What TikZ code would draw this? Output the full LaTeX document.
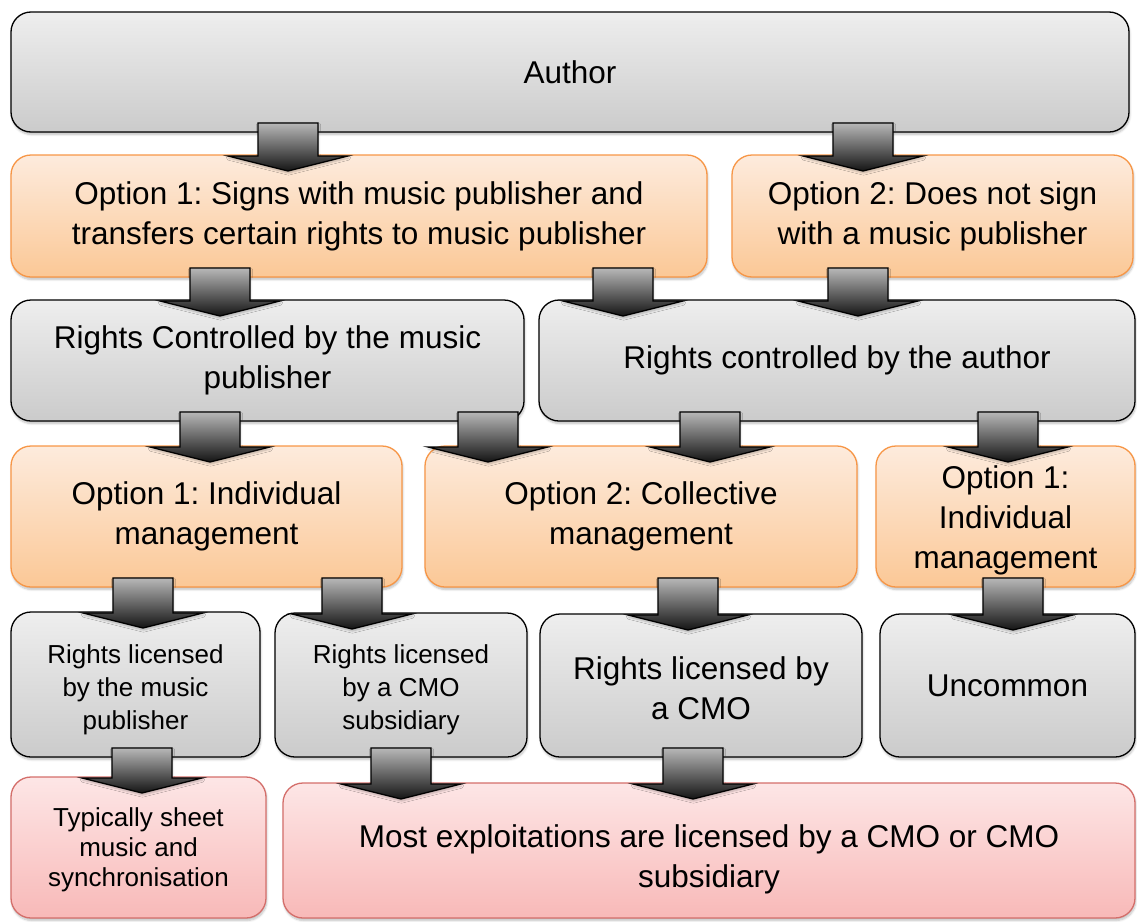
\documentclass[tikz,border=0pt]{standalone}
\usepackage{fontspec}
\setmainfont{Liberation Sans}
\usetikzlibrary{calc,shadows.blur}
\frenchspacing

\definecolor{grayTop}{HTML}{EEEEEE}
\definecolor{grayBot}{HTML}{CBCBCB}
\definecolor{orTop}{HTML}{FDEBDD}
\definecolor{orBot}{HTML}{FBC896}
\definecolor{orLine}{HTML}{F79646}
\definecolor{rdTop}{HTML}{FDE6E6}
\definecolor{rdBot}{HTML}{F8B9B8}
\definecolor{rdLine}{HTML}{D46E6A}

% centred lines of text, drawn lower than the natural centre by #1
\newcommand\loweredlines[2]{\raisebox{-#1}[\height][\depth]{\begin{tabular}{@{}c@{}}#2\end{tabular}}}

\tikzset{
  box/.style={rectangle, rounded corners=20pt, inner sep=0pt, outer sep=0pt,
    line width=1.3pt, align=center, font=\fontsize{31.5}{40}\selectfont,
    blur shadow={shadow blur steps=6, shadow xshift=0.8pt, shadow yshift=-2.5pt, shadow opacity=25}},
  smalltext/.style={font=\fontsize{26}{33}\selectfont},
  tighttext/.style={font=\fontsize{26}{30}\selectfont},
  graybox/.style={box, draw=black, top color=grayTop, bottom color=grayBot},
  orangebox/.style={box, draw=orLine, top color=orTop, bottom color=orBot},
  redbox/.style={box, draw=rdLine, top color=rdTop, bottom color=rdBot},
  blockarrow/.style={draw=black, line width=1.3pt, line join=miter,
    top color=black!28, bottom color=black!92,
    blur shadow={shadow blur steps=5, shadow xshift=0.5pt, shadow yshift=-2pt, shadow opacity=25}}
}

% block arrow: #1 = x position (pt), #2 = source node, #3 = target node
\newcommand\flowarrow[3]{%
  \path[blockarrow] let \p1=(#2.south), \p2=(#3.north) in
    ({#1pt-30pt},{\y1+9pt}) -- ({#1pt+30pt},{\y1+9pt}) -- ({#1pt+30pt},{\y2-1pt})
    -- ({#1pt+60pt},{\y2-1pt}) -- ({#1pt},{\y2-16pt}) -- ({#1pt-60pt},{\y2-1pt})
    -- ({#1pt-30pt},{\y2-1pt}) -- cycle;}

\begin{document}
\begin{tikzpicture}[x=1pt,y=-1pt]
\useasboundingbox (0,0) rectangle (1137,921);

% row 1
\node[graybox, minimum width=1118pt, minimum height=120pt] (author) at (570,72) {Author};

% row 2
\node[orangebox, minimum width=696pt, minimum height=122pt] (opta) at (359,216)
  {Option 1: Signs with music publisher and\\transfers certain rights to music publisher};
\node[orangebox, minimum width=401pt, minimum height=122pt] (optb) at (932.5,216)
  {Option 2: Does not sign\\with a music publisher};

% row 3
\node[graybox, minimum width=513pt, minimum height=121pt] (rcm) at (267.5,360.5)
  {Rights Controlled by the music\\publisher};
\node[graybox, minimum width=596pt, minimum height=121pt] (rca) at (837,360.5)
  {Rights controlled by the author};

% row 4
\node[orangebox, minimum width=391pt, minimum height=141pt] (ind1) at (206.5,516.5)
  {Option 1: Individual\\management};
\node[orangebox, minimum width=432pt, minimum height=141pt] (coll) at (641,516.5)
  {Option 2: Collective\\management};
\node[orangebox, minimum width=259pt, minimum height=141pt] (ind2) at (1005.5,516.5)
  {\loweredlines{4pt}{Option 1:\\Individual\\management}};

% row 5
\node[graybox, smalltext, minimum width=249pt, minimum height=145pt] (lpub) at (135.5,684.5)
  {\loweredlines{5pt}{Rights licensed\\by the music\\publisher}};
\node[graybox, smalltext, minimum width=252pt, minimum height=144pt] (lsub) at (401,685)
  {\loweredlines{5pt}{Rights licensed\\by a CMO\\subsidiary}};
\node[graybox, minimum width=322pt, minimum height=143pt] (lcmo) at (701,685.5)
  {\loweredlines{6pt}{Rights licensed by\\a CMO}};
\node[graybox, minimum width=255pt, minimum height=143pt] (unc) at (1007.5,685.5)
  {Uncommon};

% row 6
\node[redbox, tighttext, minimum width=255pt, minimum height=141pt] (typ) at (138.5,847.5)
  {\loweredlines{3pt}{Typically sheet\\music and\\synchronisation}};
\node[redbox, minimum width=852pt, minimum height=135pt] (most) at (709,850.5)
  {\loweredlines{9pt}{Most exploitations are licensed by a CMO or CMO\\subsidiary}};

% connectors
\flowarrow{288}{author}{opta}
\flowarrow{863}{author}{optb}
\flowarrow{220}{opta}{rcm}
\flowarrow{623}{opta}{rca}
\flowarrow{858}{optb}{rca}
\flowarrow{210}{rcm}{ind1}
\flowarrow{488}{rcm}{coll}
\flowarrow{710}{rca}{coll}
\flowarrow{1008}{rca}{ind2}
\flowarrow{143}{ind1}{lpub}
\flowarrow{352}{ind1}{lsub}
\flowarrow{688}{coll}{lcmo}
\flowarrow{1013}{ind2}{unc}
\flowarrow{142}{lpub}{typ}
\flowarrow{401}{lsub}{most}
\flowarrow{693}{lcmo}{most}
\end{tikzpicture}
\end{document}
